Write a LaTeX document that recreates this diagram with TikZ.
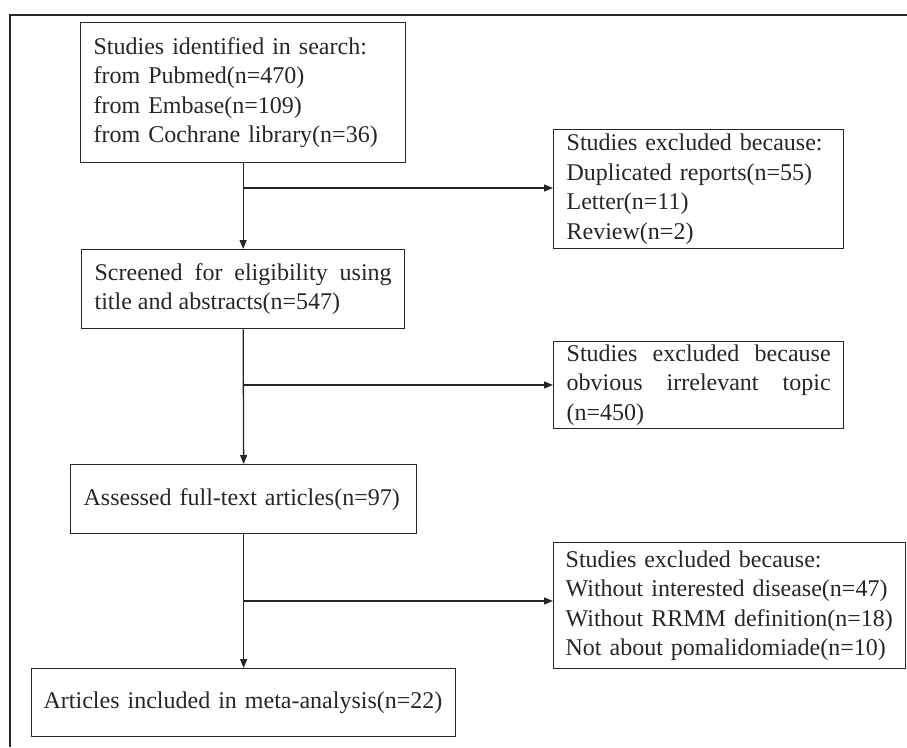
\documentclass[tikz,border=0pt]{standalone}
\usepackage{fontspec}
\setmainfont{Liberation Serif}
\usetikzlibrary{arrows.meta}
\begin{document}
\begin{tikzpicture}[x=1pt,y=-1pt,
  box/.style={draw, line width=1.3pt, anchor=north west, inner sep=0pt,
    font=\fontsize{24}{29.5}\selectfont, color=black!85},
  arr/.style={line width=1.3pt, color=black!85, -{Triangle[length=9pt,width=7pt]}},
  ln/.style={line width=1.3pt, color=black!85}]
\useasboundingbox (0,0) rectangle (907,747);
\draw[ln] (907,15) -- (10,15) -- (10,747);
% main boxes
\node[box, minimum width=325pt, minimum height=140pt, text width=299pt, align=left] (b1) at (80,22)
  {Studies identified in search:\\from Pubmed(n=470)\\from Embase(n=109)\\from Cochrane library(n=36)};
\node[box, minimum width=323pt, minimum height=79pt, text width=297pt, align=justify] (b2) at (81,249)
  {\hyphenpenalty=10000 Screened for eligibility using\linebreak title and abstracts(n=547)};
\node[box, minimum width=346pt, minimum height=69pt, text width=320pt, align=left] (b3) at (70,464)
  {Assessed full-text articles(n=97)};
\node[box, minimum width=424pt, minimum height=68pt, text width=400pt, align=left] (b4) at (31,668)
  {Articles included in meta-analysis(n=22)};
% exclusion boxes
\node[box, minimum width=290pt, minimum height=119pt, text width=264pt, align=left] (e1) at (553,129)
  {Studies excluded because:\\Duplicated reports(n=55)\\Letter(n=11)\\Review(n=2)};
\node[box, minimum width=290pt, minimum height=87pt, text width=264pt, align=justify] (e2) at (553,341)
  {\hyphenpenalty=10000 Studies excluded because\linebreak obvious irrelevant topic\linebreak (n=450)};
\node[box, minimum width=352pt, minimum height=126pt, text width=328pt, align=left] (e3) at (553,542)
  {Studies excluded because:\\Without interested disease(n=47)\\Without RRMM definition(n=18)\\Not about pomalidomiade(n=10)};
% connectors
\draw[arr] (b1.south) -- (b2.north);
\draw[arr] (b2.south) -- (b3.north);
\draw[arr] (b3.south) -- (b4.north);
\coordinate (j1) at (243,188);
\coordinate (j2) at (243,385);
\coordinate (j3) at (243,601);
\draw[arr] (j1) -- (j1 -| e1.west);
\draw[arr] (j2) -- (j2 -| e2.west);
\draw[arr] (j3) -- (j3 -| e3.west);
\end{tikzpicture}
\end{document}
